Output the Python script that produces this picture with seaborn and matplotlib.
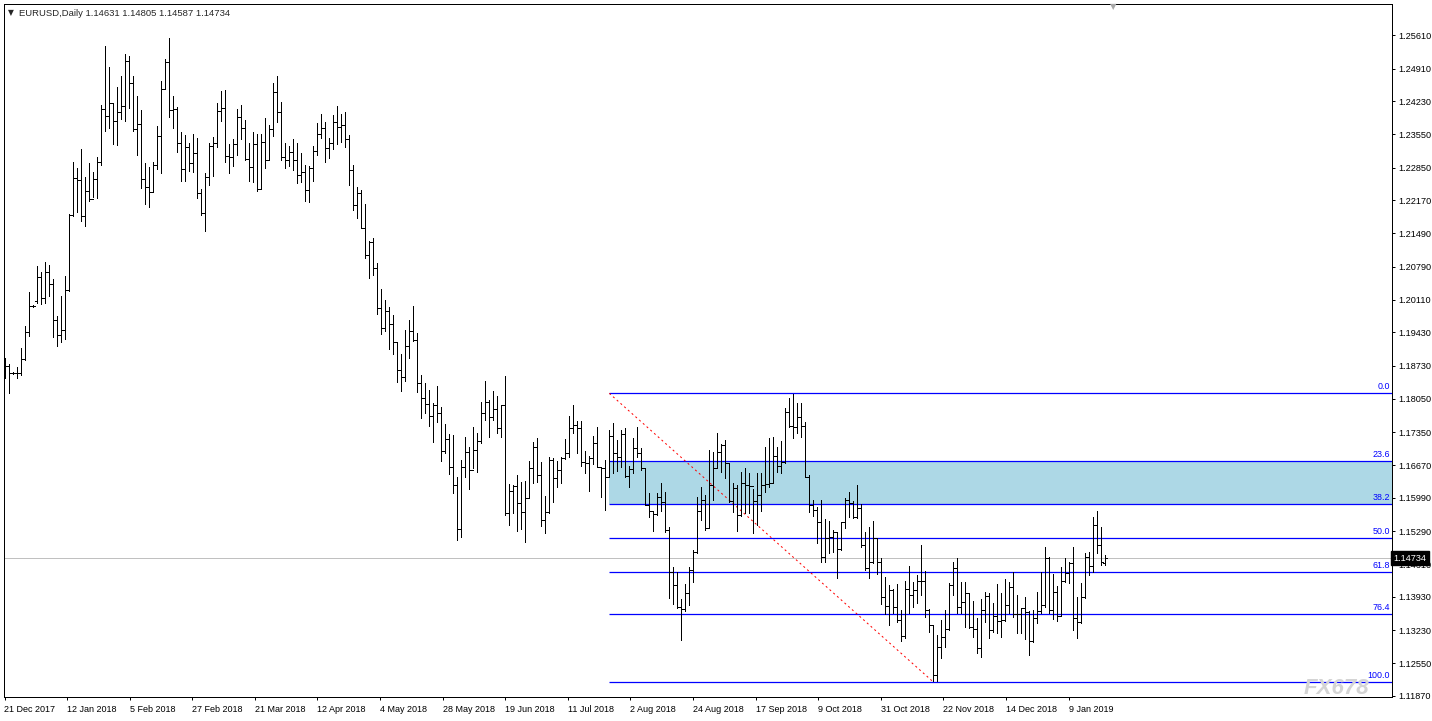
import numpy as np
import matplotlib
matplotlib.use("Agg")
import matplotlib.pyplot as plt
import matplotlib.transforms as mtransforms
import seaborn as sns

# EURUSD daily bars, 21 Dec 2017 .. 14 Jan 2019
opens = [
    1.1875, 1.1873, 1.1858, 1.1858, 1.1858, 1.1887, 1.1944, 1.1998, 1.2008, 1.2058,
    1.2014, 1.2068, 1.2043, 1.1968, 1.1937, 1.1948, 1.2031, 1.2187, 1.2264, 1.2260,
    1.2185, 1.2237, 1.2220, 1.2262, 1.2297, 1.2407, 1.2393, 1.2420, 1.2382, 1.2401,
    1.2413, 1.2507, 1.2461, 1.2366, 1.2376, 1.2262, 1.2245, 1.2235, 1.2291, 1.2351,
    1.2449, 1.2505, 1.2405, 1.2407, 1.2337, 1.2282, 1.2328, 1.2295, 1.2316, 1.2233,
    1.2191, 1.2266, 1.2330, 1.2337, 1.2403, 1.2409, 1.2310, 1.2307, 1.2334, 1.2391,
    1.2368, 1.2303, 1.2287, 1.2334, 1.2241, 1.2339, 1.2301, 1.2366, 1.2443, 1.2401,
    1.2307, 1.2301, 1.2318, 1.2301, 1.2270, 1.2276, 1.2239, 1.2285, 1.2320, 1.2355,
    1.2368, 1.2326, 1.2337, 1.2380, 1.2370, 1.2374, 1.2345, 1.2280, 1.2208, 1.2233,
    1.2160, 1.2104, 1.2131, 1.2077, 1.1994, 1.1952, 1.1987, 1.1960, 1.1923, 1.1865,
    1.1850, 1.1915, 1.1946, 1.1927, 1.1837, 1.1806, 1.1794, 1.1769, 1.1792, 1.1775,
    1.1696, 1.1721, 1.1663, 1.1625, 1.1534, 1.1663, 1.1694, 1.1657, 1.1698, 1.1717,
    1.1775, 1.1798, 1.1767, 1.1784, 1.1744, 1.1792, 1.1567, 1.1613, 1.1623, 1.1588,
    1.1569, 1.1598, 1.1661, 1.1705, 1.1646, 1.1553, 1.1569, 1.1677, 1.1640, 1.1657,
    1.1682, 1.1692, 1.1744, 1.1750, 1.1744, 1.1673, 1.1671, 1.1682, 1.1713, 1.1663,
    1.1661, 1.1642, 1.1727, 1.1692, 1.1684, 1.1731, 1.1644, 1.1659, 1.1702, 1.1692,
    1.1661, 1.1584, 1.1571, 1.1565, 1.1601, 1.1590, 1.1532, 1.1445, 1.1418, 1.1372,
    1.1368, 1.1401, 1.1449, 1.1486, 1.1571, 1.1594, 1.1536, 1.1625, 1.1661, 1.1694,
    1.1709, 1.1671, 1.1592, 1.1619, 1.1563, 1.1630, 1.1625, 1.1623, 1.1592, 1.1605,
    1.1625, 1.1628, 1.1630, 1.1686, 1.1665, 1.1673, 1.1777, 1.1748, 1.1746, 1.1767,
    1.1748, 1.1642, 1.1584, 1.1573, 1.1549, 1.1476, 1.1515, 1.1517, 1.1528, 1.1492,
    1.1549, 1.1594, 1.1588, 1.1559, 1.1578, 1.1501, 1.1453, 1.1465, 1.1515, 1.1465,
    1.1393, 1.1374, 1.1407, 1.1372, 1.1345, 1.1312, 1.1409, 1.1397, 1.1407, 1.1426,
    1.1426, 1.1366, 1.1334, 1.1230, 1.1289, 1.1310, 1.1326, 1.1418, 1.1453, 1.1372,
    1.1382, 1.1401, 1.1330, 1.1326, 1.1287, 1.1366, 1.1395, 1.1324, 1.1353, 1.1343,
    1.1345, 1.1376, 1.1413, 1.1357, 1.1357, 1.1370, 1.1361, 1.1301, 1.1349, 1.1364,
    1.1376, 1.1474, 1.1366, 1.1403, 1.1353, 1.1426, 1.1443, 1.1463, 1.1349, 1.1341,
    1.1393, 1.1476, 1.1457, 1.1542, 1.1501, 1.14631,
]
highs = [
    1.1890, 1.1877, 1.1860, 1.1871, 1.1910, 1.1956, 1.2027, 1.2000, 1.2081, 1.2068,
    1.2089, 1.2083, 1.2054, 1.1977, 1.2018, 1.2060, 1.2189, 1.2297, 1.2285, 1.2324,
    1.2266, 1.2295, 1.2276, 1.2307, 1.2416, 1.2538, 1.2494, 1.2420, 1.2453, 1.2476,
    1.2521, 1.2517, 1.2476, 1.2434, 1.2405, 1.2295, 1.2287, 1.2297, 1.2372, 1.2465,
    1.2511, 1.2555, 1.2434, 1.2411, 1.2359, 1.2353, 1.2337, 1.2355, 1.2347, 1.2241,
    1.2274, 1.2337, 1.2349, 1.2420, 1.2445, 1.2447, 1.2334, 1.2345, 1.2407, 1.2416,
    1.2384, 1.2337, 1.2359, 1.2355, 1.2355, 1.2388, 1.2374, 1.2461, 1.2476, 1.2422,
    1.2337, 1.2330, 1.2345, 1.2337, 1.2316, 1.2291, 1.2289, 1.2330, 1.2378, 1.2397,
    1.2380, 1.2347, 1.2395, 1.2413, 1.2397, 1.2401, 1.2353, 1.2291, 1.2245, 1.2239,
    1.2210, 1.2133, 1.2139, 1.2087, 1.2033, 1.2010, 1.1996, 1.1979, 1.1923, 1.1898,
    1.1948, 1.1968, 1.1998, 1.1941, 1.1854, 1.1837, 1.1823, 1.1796, 1.1831, 1.1788,
    1.1752, 1.1731, 1.1729, 1.1642, 1.1677, 1.1725, 1.1705, 1.1746, 1.1734, 1.1798,
    1.1842, 1.1802, 1.1821, 1.1811, 1.1792, 1.1852, 1.1628, 1.1625, 1.1646, 1.1632,
    1.1634, 1.1675, 1.1715, 1.1723, 1.1673, 1.1603, 1.1684, 1.1682, 1.1675, 1.1684,
    1.1721, 1.1769, 1.1792, 1.1759, 1.1759, 1.1696, 1.1686, 1.1727, 1.1746, 1.1663,
    1.1677, 1.1740, 1.1754, 1.1719, 1.1740, 1.1744, 1.1665, 1.1723, 1.1746, 1.1702,
    1.1661, 1.1609, 1.1569, 1.1609, 1.1630, 1.1611, 1.1538, 1.1455, 1.1445, 1.1388,
    1.1420, 1.1455, 1.1490, 1.1600, 1.1621, 1.1605, 1.1698, 1.1694, 1.1734, 1.1711,
    1.1719, 1.1671, 1.1630, 1.1625, 1.1653, 1.1661, 1.1650, 1.1617, 1.1650, 1.1650,
    1.1705, 1.1723, 1.1725, 1.1705, 1.1717, 1.1786, 1.1806, 1.1815, 1.1796, 1.1796,
    1.1756, 1.1646, 1.1594, 1.1580, 1.1594, 1.1555, 1.1551, 1.1532, 1.1528, 1.1549,
    1.1598, 1.1611, 1.1592, 1.1625, 1.1586, 1.1528, 1.1538, 1.1551, 1.1515, 1.1474,
    1.1434, 1.1418, 1.1409, 1.1420, 1.1366, 1.1426, 1.1457, 1.1424, 1.1438, 1.1501,
    1.1447, 1.1368, 1.1332, 1.1314, 1.1345, 1.1366, 1.1422, 1.1465, 1.1474, 1.1424,
    1.1424, 1.1401, 1.1384, 1.1349, 1.1388, 1.1403, 1.1401, 1.1380, 1.1420, 1.1401,
    1.1430, 1.1424, 1.1445, 1.1397, 1.1370, 1.1393, 1.1364, 1.1366, 1.1403, 1.1445,
    1.1497, 1.1476, 1.1440, 1.1415, 1.1455, 1.1474, 1.1465, 1.1497, 1.1393, 1.1422,
    1.1484, 1.1486, 1.1559, 1.1571, 1.1538, 1.14805,
]
lows = [
    1.1848, 1.1817, 1.1856, 1.1848, 1.1854, 1.1885, 1.1935, 1.1995, 1.2004, 1.2002,
    1.2004, 1.2018, 1.1933, 1.1915, 1.1923, 1.1929, 1.2029, 1.2185, 1.2193, 1.2174,
    1.2164, 1.2216, 1.2224, 1.2222, 1.2291, 1.2361, 1.2368, 1.2334, 1.2332, 1.2386,
    1.2382, 1.2409, 1.2361, 1.2312, 1.2243, 1.2210, 1.2203, 1.2235, 1.2282, 1.2274,
    1.2449, 1.2391, 1.2368, 1.2318, 1.2258, 1.2258, 1.2278, 1.2276, 1.2222, 1.2187,
    1.2154, 1.2249, 1.2268, 1.2328, 1.2382, 1.2297, 1.2274, 1.2289, 1.2312, 1.2345,
    1.2301, 1.2258, 1.2255, 1.2237, 1.2241, 1.2285, 1.2301, 1.2351, 1.2380, 1.2301,
    1.2285, 1.2289, 1.2280, 1.2253, 1.2255, 1.2216, 1.2214, 1.2258, 1.2312, 1.2347,
    1.2297, 1.2305, 1.2324, 1.2334, 1.2339, 1.2328, 1.2249, 1.2197, 1.2181, 1.2160,
    1.2097, 1.2056, 1.2062, 1.1981, 1.1939, 1.1946, 1.1908, 1.1898, 1.1840, 1.1821,
    1.1842, 1.1890, 1.1925, 1.1819, 1.1765, 1.1775, 1.1748, 1.1715, 1.1756, 1.1675,
    1.1692, 1.1648, 1.1609, 1.1511, 1.1517, 1.1642, 1.1617, 1.1661, 1.1653, 1.1713,
    1.1761, 1.1725, 1.1761, 1.1734, 1.1725, 1.1563, 1.1542, 1.1567, 1.1530, 1.1534,
    1.1507, 1.1598, 1.1630, 1.1632, 1.1540, 1.1526, 1.1567, 1.1590, 1.1621, 1.1630,
    1.1680, 1.1684, 1.1734, 1.1692, 1.1665, 1.1650, 1.1613, 1.1669, 1.1663, 1.1600,
    1.1573, 1.1642, 1.1650, 1.1655, 1.1663, 1.1642, 1.1621, 1.1650, 1.1684, 1.1657,
    1.1584, 1.1559, 1.1530, 1.1563, 1.1571, 1.1528, 1.1391, 1.1378, 1.1370, 1.1303,
    1.1364, 1.1376, 1.1424, 1.1484, 1.1553, 1.1532, 1.1536, 1.1594, 1.1661, 1.1653,
    1.1640, 1.1590, 1.1569, 1.1530, 1.1561, 1.1567, 1.1567, 1.1526, 1.1542, 1.1571,
    1.1611, 1.1621, 1.1630, 1.1653, 1.1650, 1.1671, 1.1746, 1.1723, 1.1734, 1.1725,
    1.1642, 1.1569, 1.1561, 1.1505, 1.1465, 1.1465, 1.1484, 1.1486, 1.1432, 1.1490,
    1.1536, 1.1559, 1.1557, 1.1557, 1.1497, 1.1449, 1.1432, 1.1463, 1.1440, 1.1378,
    1.1357, 1.1334, 1.1359, 1.1341, 1.1301, 1.1307, 1.1359, 1.1372, 1.1380, 1.1397,
    1.1351, 1.1320, 1.1218, 1.1218, 1.1266, 1.1289, 1.1324, 1.1397, 1.1359, 1.1359,
    1.1330, 1.1328, 1.1309, 1.1276, 1.1268, 1.1341, 1.1307, 1.1320, 1.1318, 1.1309,
    1.1343, 1.1359, 1.1351, 1.1318, 1.1318, 1.1305, 1.1272, 1.1299, 1.1339, 1.1359,
    1.1372, 1.1359, 1.1347, 1.1343, 1.1353, 1.1424, 1.1422, 1.1324, 1.1307, 1.1339,
    1.1391, 1.1438, 1.1445, 1.1484, 1.1459, 1.14587,
]
closes = [
    1.1873, 1.1858, 1.1858, 1.1858, 1.1887, 1.1944, 1.1998, 1.1998, 1.2058, 1.2014,
    1.2068, 1.2043, 1.1968, 1.1937, 1.1948, 1.2031, 1.2187, 1.2264, 1.2260, 1.2185,
    1.2237, 1.2220, 1.2262, 1.2297, 1.2407, 1.2393, 1.2420, 1.2382, 1.2401, 1.2413,
    1.2507, 1.2461, 1.2366, 1.2376, 1.2262, 1.2245, 1.2235, 1.2291, 1.2351, 1.2449,
    1.2505, 1.2405, 1.2407, 1.2337, 1.2282, 1.2328, 1.2295, 1.2316, 1.2233, 1.2191,
    1.2266, 1.2330, 1.2337, 1.2403, 1.2409, 1.2310, 1.2307, 1.2334, 1.2391, 1.2368,
    1.2303, 1.2287, 1.2334, 1.2241, 1.2339, 1.2301, 1.2366, 1.2443, 1.2401, 1.2307,
    1.2301, 1.2318, 1.2301, 1.2270, 1.2276, 1.2239, 1.2285, 1.2320, 1.2355, 1.2368,
    1.2326, 1.2337, 1.2380, 1.2370, 1.2374, 1.2345, 1.2280, 1.2208, 1.2233, 1.2160,
    1.2104, 1.2131, 1.2077, 1.1994, 1.1952, 1.1987, 1.1960, 1.1923, 1.1865, 1.1850,
    1.1915, 1.1946, 1.1927, 1.1837, 1.1806, 1.1794, 1.1769, 1.1792, 1.1775, 1.1696,
    1.1721, 1.1663, 1.1625, 1.1534, 1.1663, 1.1694, 1.1657, 1.1698, 1.1717, 1.1775,
    1.1798, 1.1767, 1.1784, 1.1744, 1.1792, 1.1567, 1.1613, 1.1623, 1.1588, 1.1569,
    1.1598, 1.1661, 1.1705, 1.1646, 1.1553, 1.1569, 1.1677, 1.1640, 1.1657, 1.1682,
    1.1692, 1.1744, 1.1750, 1.1744, 1.1673, 1.1671, 1.1682, 1.1713, 1.1663, 1.1661,
    1.1642, 1.1727, 1.1692, 1.1684, 1.1731, 1.1644, 1.1659, 1.1702, 1.1692, 1.1661,
    1.1584, 1.1571, 1.1565, 1.1601, 1.1590, 1.1532, 1.1445, 1.1418, 1.1372, 1.1368,
    1.1401, 1.1449, 1.1486, 1.1571, 1.1594, 1.1536, 1.1625, 1.1661, 1.1694, 1.1709,
    1.1671, 1.1592, 1.1619, 1.1563, 1.1630, 1.1625, 1.1623, 1.1592, 1.1605, 1.1625,
    1.1628, 1.1630, 1.1686, 1.1665, 1.1673, 1.1777, 1.1748, 1.1746, 1.1767, 1.1748,
    1.1642, 1.1584, 1.1573, 1.1549, 1.1476, 1.1515, 1.1517, 1.1528, 1.1492, 1.1549,
    1.1594, 1.1588, 1.1559, 1.1578, 1.1501, 1.1453, 1.1465, 1.1515, 1.1465, 1.1393,
    1.1374, 1.1407, 1.1372, 1.1345, 1.1312, 1.1409, 1.1397, 1.1407, 1.1426, 1.1426,
    1.1366, 1.1334, 1.1230, 1.1289, 1.1310, 1.1326, 1.1418, 1.1453, 1.1372, 1.1382,
    1.1401, 1.1330, 1.1326, 1.1287, 1.1366, 1.1395, 1.1324, 1.1353, 1.1343, 1.1345,
    1.1376, 1.1413, 1.1357, 1.1357, 1.1370, 1.1361, 1.1301, 1.1349, 1.1364, 1.1376,
    1.1474, 1.1366, 1.1403, 1.1353, 1.1426, 1.1443, 1.1463, 1.1349, 1.1341, 1.1393,
    1.1476, 1.1457, 1.1542, 1.1501, 1.1465, 1.14734,
]

date_labels = ['21 Dec 2017', '12 Jan 2018', '5 Feb 2018', '27 Feb 2018', '21 Mar 2018',
               '12 Apr 2018', '4 May 2018', '28 May 2018', '19 Jun 2018', '11 Jul 2018',
               '2 Aug 2018', '24 Aug 2018', '17 Sep 2018', '9 Oct 2018', '31 Oct 2018',
               '22 Nov 2018', '14 Dec 2018', '9 Jan 2019']
price_ticks = [1.25610, 1.24910, 1.24230, 1.23550, 1.22850, 1.22170, 1.21490, 1.20790,
               1.20110, 1.19430, 1.18730, 1.18050, 1.17350, 1.16670, 1.15990, 1.15290,
               1.14610, 1.13930, 1.13230, 1.12550, 1.11870]

# fibonacci retracement drawn on the chart
fib_start_bar, fib_end_bar = 151, 232
fib_high, fib_low = 1.1816, 1.1216
fib_ratios = [0.0, 23.6, 38.2, 50.0, 61.8, 76.4, 100.0]

symbol = 'EURUSD,Daily'
last_price = 1.14734

sns.set_theme(style='white')
plt.rcParams['font.family'] = ['Liberation Sans', 'DejaVu Sans']

W, H = 1432, 721
fig = plt.figure(figsize=(W / 100, H / 100), dpi=100)
fig.patch.set_facecolor('white')
ax = fig.add_axes([4 / W, 24 / H, 1388 / W, 693 / H])
ax.set_facecolor('white')

x = np.arange(len(closes))
ax.set_xlim(-0.325, 346.675)
ax.set_ylim(1.11847, 1.26255)

LW = 0.72  # one pixel
# current price line
ax.axhline(last_price, color='#C0C0C0', lw=LW, zorder=1, antialiased=False)

# fibo zone + levels
levels = [fib_high - (fib_high - fib_low) * r / 100 for r in fib_ratios]
x_end = ax.get_xlim()[1]
ax.fill_between([fib_start_bar, x_end], levels[1], levels[2], color='#ADD8E6', lw=0, zorder=0.5)
for lv in levels:
    ax.plot([fib_start_bar, x_end], [lv, lv], color='#0000FF', lw=0.9, zorder=1.5,
            solid_capstyle='butt')
ax.plot([fib_start_bar, fib_end_bar], [fib_high, fib_low], color='#FF0000', lw=LW,
        linestyle=(0, (2, 3)), zorder=1.6)
blend = mtransforms.blended_transform_factory(ax.transAxes, ax.transData)
for r, lv in zip(fib_ratios, levels):
    ax.annotate(f'{r:.1f}', xy=(0.9986, lv), xycoords=blend, xytext=(0, 1.5),
                textcoords='offset points', ha='right', va='bottom',
                color='#0000FF', fontsize=6.4, zorder=5)

# OHLC bars
ax.vlines(x, lows, highs, color='black', lw=LW, zorder=3, antialiased=False)
ax.hlines(opens, x - 0.55, x, color='black', lw=LW, zorder=3, antialiased=False)
ax.hlines(closes, x, x + 0.55, color='black', lw=LW, zorder=3, antialiased=False)

# axes
for s in ax.spines.values():
    s.set_color('black')
    s.set_linewidth(LW)
ax.yaxis.tick_right()
ax.set_yticks(price_ticks)
ax.set_yticklabels([f'{v:.5f}' for v in price_ticks])
label_step = 15.65
ax.set_xticks(np.arange(len(date_labels)) * label_step - 0.2)
ax.set_xticklabels(date_labels, ha='left')
ax.tick_params(axis='y', which='both', right=True, left=False, direction='out',
               length=2.5, width=LW, pad=2, labelsize=6.6, colors='black')
ax.tick_params(axis='x', which='both', bottom=True, direction='out',
               length=2.5, width=LW, pad=3, labelsize=6.5, colors='black')
ax.grid(False)

# last price box
ax.text(1.0012, last_price, f'{last_price:.5f}', transform=blend, ha='left', va='center',
        color='white', fontsize=6.6, zorder=10, clip_on=False,
        bbox=dict(boxstyle='square,pad=0.25', fc='black', ec='black'))

# header text
fig.text(8 / W, 1 - 13 / H, '\u25bc', fontsize=5.5, va='center', ha='left',
         family=['DejaVu Sans'])
fig.text(19 / W, 1 - 13 / H, f'{symbol} 1.14631 1.14805 1.14587 1.14734',
         fontsize=6.8, va='center', ha='left')
fig.text(1113 / W, 1 - 7 / H, '\u25bc', fontsize=6, va='center', ha='center',
         color='#A8A8A8', family=['DejaVu Sans'])

# watermark
fig.text(1336 / W, 1 - 689 / H, 'FX678', fontsize=16, va='center', ha='center',
         color='#D4D4D4', style='italic', fontweight='bold')

fig.savefig('out.png', dpi=100, facecolor='white')
